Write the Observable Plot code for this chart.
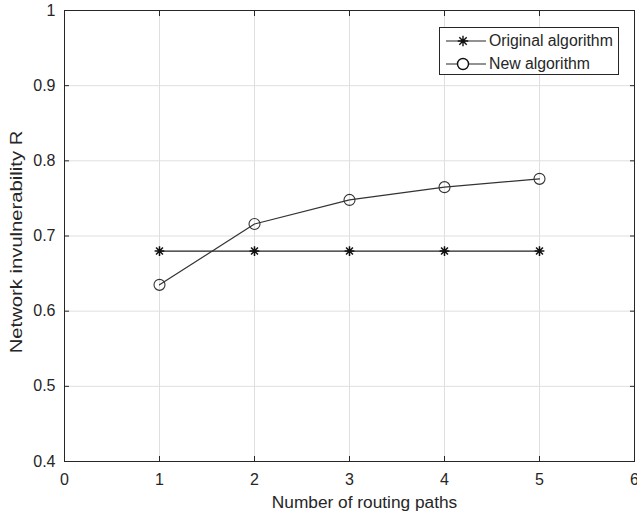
<!DOCTYPE html>
<html>
<head>
<meta charset="utf-8">
<script src="https://cdn.jsdelivr.net/npm/d3@7"></script>
<script src="https://cdn.jsdelivr.net/npm/@observablehq/plot@0.6"></script>
<style>
  html, body { margin: 0; padding: 0; background: #fff; }
  #wrap { position: relative; width: 637px; height: 522px; font-family: "Liberation Sans", Arial, sans-serif; }
  #legend { position: absolute; left: 439px; top: 27px; width: 180px; height: 48px; border: 1px solid #262626; background: #fff; box-sizing: border-box; font-size: 15.8px; color: #262626; }
  #legend .row { position: absolute; left: 0; height: 20px; display: flex; align-items: center; }
  #legend svg { display: block; }
</style>
</head>
<body>
<div id="wrap"></div>
<script>
const paths = [1, 2, 3, 4, 5];
const originalR = [0.68, 0.68, 0.68, 0.68, 0.68];
const newR = [0.635, 0.716, 0.748, 0.765, 0.776];
const xTicks = [0, 1, 2, 3, 4, 5, 6];
const yTicks = [0.4, 0.5, 0.6, 0.7, 0.8, 0.9, 1];
const seriesNames = ["Original algorithm", "New algorithm"];
const xLabel = "Number of routing paths";
const yLabel = "Network invulnerability R";

const orig = paths.map((p, i) => ({x: p, y: originalR[i]}));
const neu = paths.map((p, i) => ({x: p, y: newR[i]}));

// MATLAB-style 8-armed asterisk
const star = {
  draw(context, size) {
    const r = Math.sqrt(size) * 0.5;
    const d = r * Math.SQRT1_2;
    context.moveTo(-r, 0); context.lineTo(r, 0);
    context.moveTo(0, -r); context.lineTo(0, r);
    context.moveTo(-d, -d); context.lineTo(d, d);
    context.moveTo(-d, d); context.lineTo(d, -d);
  }
};

const ink = "#262626";
const fmt = d => String(d);
const plot = Plot.plot({
  width: 637,
  height: 522,
  marginLeft: 64,
  marginTop: 10,
  marginRight: 3,
  marginBottom: 61,
  style: {fontFamily: "Liberation Sans, Arial, sans-serif", fontSize: "16px", color: ink, background: "#fff"},
  x: {domain: [0, 6], ticks: xTicks, tickFormat: fmt, label: null},
  y: {domain: [0.4, 1], ticks: yTicks, tickFormat: fmt, label: null},
  marks: [
    Plot.gridX(xTicks, {stroke: "#dfdfdf", strokeOpacity: 1}),
    Plot.gridY(yTicks, {stroke: "#dfdfdf", strokeOpacity: 1}),
    Plot.frame({stroke: ink, strokeWidth: 1}),
    Plot.axisX(xTicks, {anchor: "bottom", tickSize: 5, dy: -5, text: null, stroke: ink}),
    Plot.axisX(xTicks, {anchor: "top", tickSize: 5, dy: 5, text: null, stroke: ink}),
    Plot.axisY(yTicks, {anchor: "left", tickSize: 5, dx: 5, text: null, stroke: ink}),
    Plot.axisY(yTicks, {anchor: "right", tickSize: 5, dx: -5, text: null, stroke: ink}),
    Plot.axisX(xTicks, {anchor: "bottom", tickSize: 0, tickPadding: 12, tickFormat: fmt, fontSize: 16, fill: ink}),
    Plot.axisY(yTicks, {anchor: "left", tickSize: 0, tickPadding: 9, tickFormat: fmt, fontSize: 16, fill: ink}),
    Plot.text([xLabel], {frameAnchor: "bottom", dx: 15, dy: 46, fontSize: 17.3, fill: ink}),
    Plot.text([yLabel], {frameAnchor: "left", textAnchor: "middle", dx: -48, dy: 6, rotate: -90, fontSize: 17.3, fill: ink, className: "ylab"}),
    Plot.line(orig, {x: "x", y: "y", stroke: "#222", strokeWidth: 1.2}),
    Plot.dot(orig, {x: "x", y: "y", symbol: star, r: 5.5, stroke: "#111", strokeWidth: 1.5}),
    Plot.line(neu, {x: "x", y: "y", stroke: "#333", strokeWidth: 1.2}),
    Plot.dot(neu, {x: "x", y: "y", symbol: "circle", r: 5.5, stroke: "#333", fill: "none", strokeWidth: 1.1})
  ]
});
const wrap = document.getElementById("wrap");
wrap.appendChild(plot);

// the reference's y label is drawn stretched along its length
const yl = plot.querySelector(".ylab text");
if (yl) {
  const t = yl.getAttribute("transform") || "";
  yl.setAttribute("transform", t + " scale(1.17,1)");
}

const legend = document.createElement("div");
legend.id = "legend";
const symbols = [star, d3.symbolCircle];
seriesNames.forEach((name, i) => {
  const row = document.createElement("div");
  row.className = "row";
  row.style.top = (3 + i * 23) + "px";
  const s = d3.create("svg").attr("width", 48).attr("height", 20);
  s.append("line").attr("x1", 6).attr("x2", 46).attr("y1", 10).attr("y2", 10).attr("stroke", ink).attr("stroke-width", 1.2);
  s.append("path").attr("transform", "translate(23,10)")
    .attr("d", d3.symbol(symbols[i], i === 0 ? 110 : 95)())
    .attr("fill", i === 0 ? "none" : "#fff").attr("stroke", "#111").attr("stroke-width", 1.4);
  row.appendChild(s.node());
  const t = document.createElement("span");
  t.textContent = name;
  t.style.marginLeft = "1px";
  row.appendChild(t);
  legend.appendChild(row);
});
wrap.appendChild(legend);
</script>
</body>
</html>
